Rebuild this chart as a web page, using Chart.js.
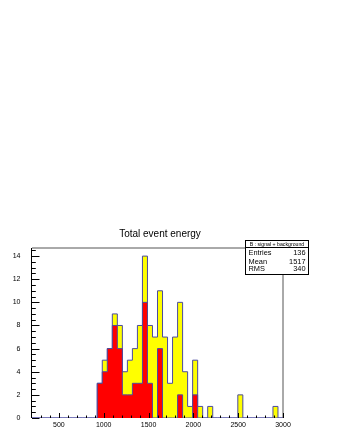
<!DOCTYPE html>
<html><head><meta charset="utf-8">
<script src="https://cdn.jsdelivr.net/npm/chart.js@4.4.1/dist/chart.umd.min.js"></script>
<style>html,body{margin:0;padding:0;background:#fff;}canvas{display:block;}</style>
</head><body>
<canvas id="c" width="340" height="440"></canvas>
<script>
// Bin edges of the histogram (50 bins, 200..3000)
const binEdges = [200,256,312,368,424,480,536,592,648,704,760,816,872,928,984,1040,1096,1152,1208,1264,
  1320,1376,1432,1488,1544,1600,1656,1712,1768,1824,1880,1936,1992,2048,2104,2160,2216,2272,2328,2384,
  2440,2496,2552,2608,2664,2720,2776,2832,2888,2944,3000];
// Red component (bottom of stack)
const redCounts = [0,0,0,0,0,0,0,0,0,0,0,0,0,3,4,6,8,6,2,2,3,3,10,3,0,6,0,0,0,2,0,0,2,0,0,0,0,0,0,0,0,0,0,0,0,0,0,0,0,0];
// Yellow component (stacked on top)
const yellowCounts = [0,0,0,0,0,0,0,0,0,0,0,0,0,0,1,0,1,2,2,3,3,5,4,5,7,5,7,3,7,8,4,1,3,1,0,1,0,0,0,0,0,2,0,0,0,0,0,0,1,0];
const xMajorTicks = [500,1000,1500,2000,2500,3000];
const xMinorTicks = [300,400,600,700,800,900,1100,1200,1300,1400,1600,1700,1800,1900,2100,2200,2300,2400,2600,2700,2800,2900];
const yMajorTicks = [0,2,4,6,8,10,12,14];
const yMinorTicks = [0.5,1,1.5,2.5,3,3.5,4.5,5,5.5,6.5,7,7.5,8.5,9,9.5,10.5,11,11.5,12.5,13,13.5,14.5];
const titleText = 'Total event energy';
const statsTitle = 'B : signal + background';
const statsRows = [['Entries','136'],['Mean','1517'],['RMS','340']];

const totalData = binEdges.map((x,i)=>({x, y: i<redCounts.length ? redCounts[i]+yellowCounts[i] : 0}));
const redData = binEdges.map((x,i)=>({x, y: i<redCounts.length ? redCounts[i] : 0}));
const outline = '#4b4ba0';
const FONT = 'Liberation Sans, Arial, Helvetica, sans-serif';

const framePlugin = {
  id:'framePlugin',
  afterDatasetsDraw(chart){
    const {ctx, chartArea:a, scales:{x,y}} = chart;
    ctx.save();
    ctx.lineWidth = 1;
    ctx.strokeStyle = '#555';
    ctx.beginPath();
    ctx.moveTo(a.left, a.top); ctx.lineTo(a.right, a.top);
    ctx.moveTo(a.right, a.top); ctx.lineTo(a.right, a.bottom);
    ctx.stroke();
    ctx.strokeStyle = '#000';
    ctx.beginPath();
    ctx.moveTo(a.left-0.5, a.top); ctx.lineTo(a.left-0.5, a.bottom);
    ctx.stroke();
    ctx.beginPath();
    yMajorTicks.forEach(v=>{const p=Math.round(y.getPixelForValue(v))+0.5; ctx.moveTo(a.left,p); ctx.lineTo(a.left+7.5,p);});
    yMinorTicks.forEach(v=>{const p=Math.round(y.getPixelForValue(v))+0.5; ctx.moveTo(a.left,p); ctx.lineTo(a.left+3.8,p);});
    xMajorTicks.forEach(v=>{const p=Math.round(x.getPixelForValue(v))+0.5; ctx.moveTo(p,a.bottom); ctx.lineTo(p,a.bottom-5);});
    xMinorTicks.forEach(v=>{const p=Math.round(x.getPixelForValue(v))+0.5; ctx.moveTo(p,a.bottom); ctx.lineTo(p,a.bottom-2.5);});
    ctx.stroke();
    ctx.restore();
  },
  afterDraw(chart){
    const {ctx} = chart;
    ctx.save();
    ctx.fillStyle = '#000';
    ctx.font = '10px ' + FONT;
    ctx.textAlign = 'center';
    ctx.textBaseline = 'alphabetic';
    ctx.fillText(titleText, 160, 237);
    // stats box
    const bx = 245.5, by = 240.5, bw = 63, bh = 34;
    ctx.fillStyle = '#fff';
    ctx.fillRect(bx, by, bw, bh);
    ctx.strokeStyle = '#000';
    ctx.lineWidth = 1;
    ctx.strokeRect(bx, by, bw, bh);
    ctx.beginPath(); ctx.moveTo(bx, 247.5); ctx.lineTo(bx+bw, 247.5); ctx.stroke();
    ctx.fillStyle = '#000';
    ctx.font = '5.2px ' + FONT;
    ctx.textBaseline = 'middle';
    ctx.fillText(statsTitle, bx + bw/2, 244.2);
    ctx.font = '7.4px ' + FONT;
    const rowsY = [253.3, 261.6, 269.3];
    statsRows.forEach((r,i)=>{
      ctx.textAlign = 'left'; ctx.fillText(r[0], 248.5, rowsY[i]);
      ctx.textAlign = 'right'; ctx.fillText(r[1], 305.5, rowsY[i]);
    });
    ctx.restore();
  }
};

new Chart(document.getElementById('c'), {
  type:'line',
  data:{datasets:[
    {label:'red', data:redData, stepped:'before', fill:'origin', backgroundColor:'#ff0000', borderColor:outline, borderWidth:1, pointRadius:0, tension:0, order:0},
    {label:'signal + background', data:totalData, stepped:'before', fill:'origin', backgroundColor:'#ffff00', borderColor:outline, borderWidth:1, pointRadius:0, tension:0, order:1}
  ]},
  options:{
    responsive:false, animation:false, devicePixelRatio:1,
    layout:{padding:{top:248, right:57, left:0, bottom:0}},
    plugins:{legend:{display:false}, tooltip:{enabled:false}, title:{display:false}},
    scales:{
      x:{type:'linear', min:200, max:3000, grid:{display:false}, border:{display:false},
        ticks:{font:{family:FONT, size:7}, color:'#000', padding:-5, maxRotation:0, autoSkip:false, callback:v=>String(v)},
        afterBuildTicks:s=>{s.ticks = xMajorTicks.map(v=>({value:v}));},
        afterFit:s=>{s.height=22;}},
      y:{type:'linear', min:0, max:14.7, grid:{display:false}, border:{display:false},
        ticks:{font:{family:FONT, size:7}, color:'#000', padding:3.5, autoSkip:false, callback:v=>String(v)},
        afterBuildTicks:s=>{s.ticks = yMajorTicks.map(v=>({value:v}));},
        afterFit:s=>{s.width=32;}}
    }
  },
  plugins:[framePlugin]
});
</script>
</body></html>
